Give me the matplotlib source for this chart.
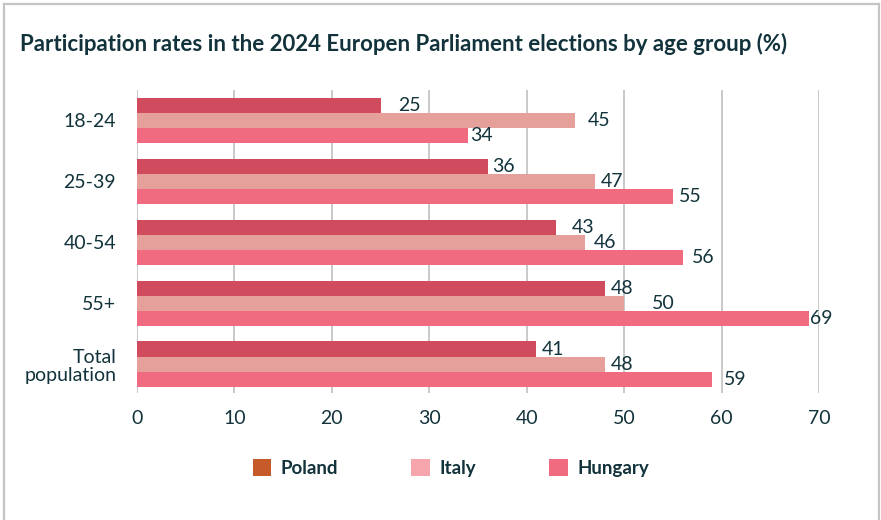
import matplotlib
matplotlib.use("Agg")
import matplotlib.pyplot as plt
from matplotlib.patches import Patch
from matplotlib.lines import Line2D
import numpy as np

# Data
age_groups = ["18-24", "25-39", "40-54", "55+", "Total\npopulation"]
countries = ["Poland", "Italy", "Hungary"]
poland = [25, 36, 43, 48, 41]
italy = [45, 47, 46, 50, 48]
hungary = [34, 55, 56, 69, 59]
x_ticks = [0, 10, 20, 30, 40, 50, 60, 70]

# Styling
bar_colors = ["#d04b5e", "#e5a09c", "#f06b80"]
legend_colors = ["#c65a28", "#f5a5ab", "#f06b80"]
text_color = "#12333b"
grid_color = "#c9c9c9"
# extra horizontal gap (data units) between each bar end and its value label
label_pads = [
    [1.8, 0.4, 1.6, 0.6, 0.5],
    [1.3, 0.6, 0.9, 2.8, 0.6],
    [0.2, 0.6, 1.0, 0.1, 1.2],
]

plt.rcParams["font.family"] = ["Lato", "DejaVu Sans"]

fig = plt.figure(figsize=(8.81, 5.2), dpi=100)
ax = fig.add_axes([137 / 881, 1 - 393 / 520, (819 - 137) / 881, (393 - 90) / 520])

series = [poland, italy, hungary]
y = np.arange(len(age_groups))
bar_h = 0.25
for i, (vals, color) in enumerate(zip(series, bar_colors)):
    ypos = y + (i - 1) * bar_h
    ax.barh(ypos, vals, height=bar_h, color=color, zorder=2)
    for yy, v, pad in zip(ypos, vals, label_pads[i]):
        ax.text(v + pad, yy, f"{v}", va="center", ha="left",
                fontsize=14, color=text_color, zorder=3, clip_on=False)

ax.set_xlim(0, 70)
ax.set_ylim(len(age_groups) - 1 + 0.47, -0.5)
ax.set_xticks(x_ticks)
ax.set_xticklabels([str(t) for t in x_ticks])
ax.set_yticks(y)
ax.set_yticklabels(age_groups, ha="right", linespacing=1.07)
ax.tick_params(axis="x", length=0, pad=12, labelsize=14, labelcolor=text_color)
ax.tick_params(axis="y", length=0, pad=15, labelsize=14, labelcolor=text_color)
ax.grid(axis="x", color=grid_color, linewidth=1.4, zorder=0)
ax.set_axisbelow(True)
for s in ax.spines.values():
    s.set_visible(False)

fig.text(20 / 881, 1 - 44 / 520,
         "Participation rates in the 2024 Europen Parliament elections by age group (%)",
         fontsize=16, fontweight="bold", color=text_color, va="center", ha="left")

handles = [Patch(facecolor=c, edgecolor="none", label=n)
           for c, n in zip(legend_colors, countries)]
leg = fig.legend(handles=handles, loc="center", ncol=3,
                 bbox_to_anchor=(451 / 881, 1 - 468 / 520), frameon=False,
                 handlelength=1.0, handleheight=1.0, handletextpad=0.5,
                 columnspacing=3.9,
                 prop={"size": 13.5, "weight": "bold"})
for t in leg.get_texts():
    t.set_color(text_color)

# light frame around the panel (top, left and right edges)
border = "#c4c4c4"
fig.add_artist(Line2D([4 / 881, 4 / 881], [0, 1 - 4 / 520], transform=fig.transFigure,
                      color=border, linewidth=1.6))
fig.add_artist(Line2D([879 / 881, 879 / 881], [0, 1 - 4 / 520], transform=fig.transFigure,
                      color=border, linewidth=1.6))
fig.add_artist(Line2D([4 / 881, 879 / 881], [1 - 4 / 520, 1 - 4 / 520],
                      transform=fig.transFigure, color=border, linewidth=1.6))

fig.savefig("out.png", dpi=100)
